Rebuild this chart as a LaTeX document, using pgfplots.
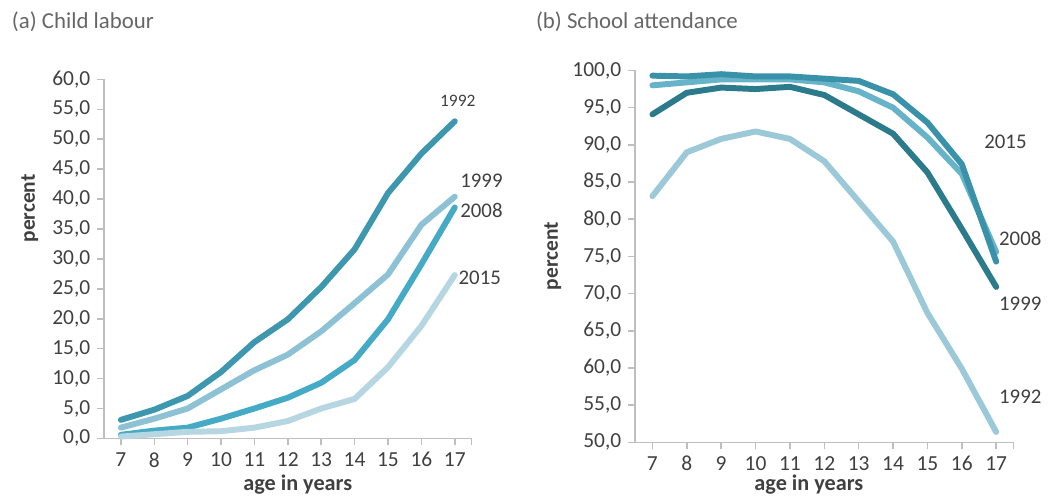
\documentclass[border=0pt]{standalone}
\usepackage{pgfplots}
\pgfplotsset{compat=1.18}
\usepackage{fontspec}
\setmainfont{Carlito}
\definecolor{txt}{HTML}{404040}
\definecolor{ttl}{HTML}{666666}
\definecolor{axc}{HTML}{BFBFBF}
\definecolor{la}{HTML}{3D97AF}
\definecolor{lb}{HTML}{8DC2D4}
\definecolor{lc}{HTML}{45AAC5}
\definecolor{ld}{HTML}{B6D7E1}
\definecolor{ra}{HTML}{9CC9D8}
\definecolor{rb}{HTML}{2C7B8D}
\definecolor{rc}{HTML}{67B4CA}
\definecolor{rd}{HTML}{3A92AA}
\pgfplotsset{
  common/.style={
    scale only axis,
    axis lines*=left,
    axis line style={axc, line width=0.8pt},
    every tick/.style={axc, line width=0.8pt},
    major tick length=3.5pt,
    tick align=outside,
    xmin=6.5, xmax=17.5,
    xtick={7,...,17},
    extra x ticks={17.5}, extra x tick labels={},
    ticklabel style={font=\fontsize{10.8}{12}\selectfont, text=txt},
    /pgf/number format/.cd, fixed, fixed zerofill, precision=1, use comma, assume math mode=true,
    /pgfplots/.cd,
    xticklabel={\pgfmathprintnumber[fixed,precision=0]{\tick}},
    clip=false,
    every axis plot/.style={line width=3pt, line cap=round, line join=round},
  }
}
\begin{document}
\begin{tikzpicture}[x=0.5pt,y=0.5pt]
\path (0,0) rectangle (1048,497);
\node[anchor=west, text=ttl, font=\fontsize{11.5}{13}\selectfont] at (5,475) {(a) Child labour};
\node[anchor=west, text=ttl, font=\fontsize{11.5}{13}\selectfont] at (533,475) {(b) School attendance};
\node[rotate=90, text=txt, font=\fontsize{10.8}{12}\selectfont\bfseries] at (30,287) {percent};
\node[text=txt, font=\fontsize{11.2}{12}\selectfont\bfseries] at (300,9) {age in years};
\node[rotate=90, text=txt, font=\fontsize{10.8}{12}\selectfont\bfseries] at (557,239) {percent};
\node[text=txt, font=\fontsize{11.2}{12}\selectfont\bfseries] at (815,9) {age in years};
\begin{axis}[common, at={(52.5pt,27.65pt)}, anchor=south west,
  width=185pt, height=180.85pt, ymin=0, ymax=60, ytick={0,5,...,60}]
\addplot[la] coordinates {(7,3.1)(8,4.8)(9,7.1)(10,11.1)(11,16.1)(12,19.9)(13,25.3)(14,31.6)(15,41.0)(16,47.6)(17,53.0)};
\addplot[lb] coordinates {(7,1.8)(8,3.3)(9,5.0)(10,8.2)(11,11.4)(12,14.0)(13,17.9)(14,22.6)(15,27.4)(16,35.7)(17,40.4)};
\addplot[lc] coordinates {(7,0.6)(8,1.3)(9,1.8)(10,3.3)(11,5.0)(12,6.8)(13,9.3)(14,13.1)(15,19.9)(16,29.1)(17,38.6)};
\addplot[ld] coordinates {(7,0.3)(8,0.7)(9,1.1)(10,1.2)(11,1.8)(12,2.9)(13,5.0)(14,6.6)(15,11.9)(16,18.8)(17,27.3)};
\node[text=txt, font=\fontsize{8.8}{10}\selectfont] at (axis cs:17.09,56.4) {1992};
\node[text=txt, font=\fontsize{10.5}{12}\selectfont] at (axis cs:17.8,43.1) {1999};
\node[text=txt, font=\fontsize{10.5}{12}\selectfont] at (axis cs:17.8,38.1) {2008};
\node[text=txt, font=\fontsize{10.5}{12}\selectfont] at (axis cs:17.75,26.8) {2015};
\end{axis}
\begin{axis}[common, at={(320pt,25.65pt)}, anchor=south west,
  width=190.5pt, height=187.35pt, ymin=50, ymax=100, ytick={50,55,...,100}]
\addplot[ra] coordinates {(7,83.1)(8,89.0)(9,90.8)(10,91.8)(11,90.8)(12,87.8)(13,82.4)(14,77.0)(15,67.4)(16,59.9)(17,51.4)};
\addplot[rc] coordinates {(7,98.0)(8,98.4)(9,98.8)(10,98.8)(11,98.8)(12,98.4)(13,97.2)(14,95.0)(15,91.0)(16,86.1)(17,75.6)};
\addplot[rb] coordinates {(7,94.1)(8,97.0)(9,97.7)(10,97.5)(11,97.8)(12,96.7)(13,94.1)(14,91.5)(15,86.3)(16,78.7)(17,70.9)};
\addplot[rd] coordinates {(7,99.3)(8,99.2)(9,99.5)(10,99.2)(11,99.2)(12,98.9)(13,98.6)(14,96.8)(15,93.0)(16,87.4)(17,74.3)};
\node[text=txt, font=\fontsize{10.5}{12}\selectfont] at (axis cs:17.27,90.4) {2015};
\node[text=txt, font=\fontsize{10.5}{12}\selectfont] at (axis cs:17.7,77.4) {2008};
\node[text=txt, font=\fontsize{10.5}{12}\selectfont] at (axis cs:17.7,68.6) {1999};
\node[text=txt, font=\fontsize{10.5}{12}\selectfont] at (axis cs:17.7,56.1) {1992};
\end{axis}
\end{tikzpicture}
\end{document}
